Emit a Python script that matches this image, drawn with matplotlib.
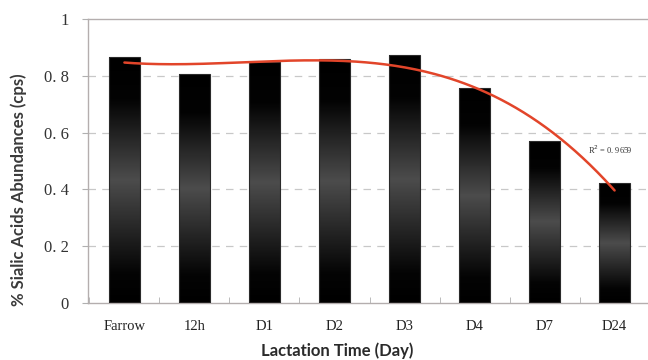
import numpy as np
import matplotlib
matplotlib.use("Agg")
import matplotlib.pyplot as plt
from matplotlib.colors import LinearSegmentedColormap

categories = ["Farrow", "12h", "D1", "D2", "D3", "D4", "D7", "D24"]
values = [0.866, 0.806, 0.848, 0.858, 0.873, 0.756, 0.571, 0.421]
y_ticks = [0, 0.2, 0.4, 0.6, 0.8, 1.0]
y_tick_labels = ["0", "0. 2", "0. 4", "0. 6", "0. 8", "1"]
r2_label = "R$^2$ = 0. 9659"
trend_degree = 3

fig = plt.figure(figsize=(6.48, 3.6), dpi=100)
ax = fig.add_axes([88/648, 57/360, 563/648, 284/360])

x = np.arange(len(categories))
width = 0.44

cmap = LinearSegmentedColormap.from_list(
    "bar", [(0.0, "#000000"), (0.12, "#040404"), (0.5, "#4c4c4c"),
            (0.83, "#030303"), (1.0, "#000000")])
grad = np.linspace(0, 1, 256).reshape(-1, 1)

bars = ax.bar(x, values, width=width, facecolor="none", edgecolor="#2a2a2a",
              linewidth=0.8, zorder=3)
for b in bars:
    x0, y0 = b.get_x(), b.get_y()
    w, h = b.get_width(), b.get_height()
    im = ax.imshow(grad, cmap=cmap, origin="lower", aspect="auto",
                   extent=[x0, x0 + w, y0, y0 + h], zorder=2, interpolation="bilinear")
    im.set_clip_path(b)

# polynomial trendline fitted to bar values
coef = np.polyfit(x, values, trend_degree)
xs = np.linspace(x[0], x[-1], 200)
ax.plot(xs, np.polyval(coef, xs), color="#e2452a", lw=1.8, zorder=4,
        solid_capstyle="round")

ax.text(6.62, (303 - 153) / 284 - 0.012, r2_label, fontsize=6,
        family="Liberation Serif", color="#333333", va="bottom", ha="left")

ax.set_xlim(-0.52, 7.52)
ax.set_ylim(0, 1)

ax.set_yticks(y_ticks)
ax.set_yticklabels(y_tick_labels, family="Liberation Serif", fontsize=12,
                   color="#333333")
ax.set_xticks(x)
ax.set_xticklabels(categories, family="Liberation Serif", fontsize=10.5,
                   color="#222222")
ax.tick_params(axis="x", length=0, pad=12)
ax.tick_params(axis="y", length=4, color="#b0b0b0", pad=10)
ax.set_xticks(np.arange(-0.5, 7.6, 1), minor=True)
ax.tick_params(axis="x", which="minor", direction="in", length=4, color="#b0b0b0")

for yv in y_ticks[1:-1]:
    ax.axhline(yv, color="#c8c8c8", lw=0.9, ls=(0, (6, 5)), zorder=1)

for s in ax.spines.values():
    s.set_color("#b4aeae")
    s.set_linewidth(1.0)

fig.text(19 / 648, (360 - 190) / 360, "% Sialic Acids Abundances (cps)",
         rotation=90, ha="center", va="center", family="Lato", fontsize=12,
         fontweight="bold", color="#3a3a3a")

fig.text(337 / 648, (360 - 351) / 360, "Lactation Time (Day)", ha="center",
         va="center", family="Lato", fontsize=12, fontweight="bold",
         color="#2a2a2a")

fig.savefig("out.png", dpi=100)
